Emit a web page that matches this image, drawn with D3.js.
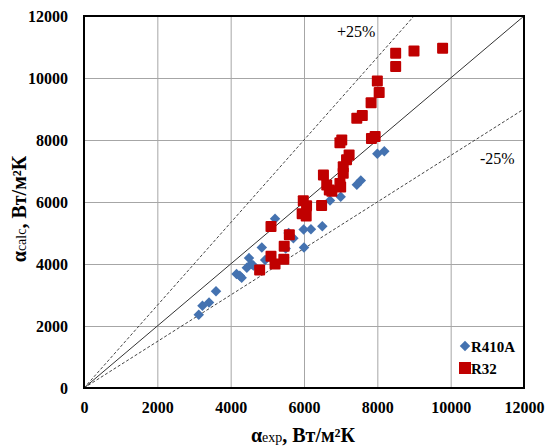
<!DOCTYPE html>
<html>
<head>
<meta charset="utf-8">
<script src="https://cdn.jsdelivr.net/npm/d3@7"></script>
<style>
  body { margin: 0; background: #fff; }
</style>
</head>
<body>
<div id="chart"></div>
<script>
const MARGIN = { LEFT: 84, RIGHT: 21, TOP: 16, BOTTOM: 58 }
const WIDTH = 545 - MARGIN.LEFT - MARGIN.RIGHT
const HEIGHT = 446 - MARGIN.TOP - MARGIN.BOTTOM
const FONT = "'Liberation Serif', 'Times New Roman', serif"

// data
const ticks = [0, 2000, 4000, 6000, 8000, 10000, 12000]
const r410aX = [3130, 3230, 3410, 3600, 4160, 4250, 4300, 4440, 4500, 4560, 4620, 4850, 4940, 5210, 5500, 5580, 5710, 5990, 6000, 6190, 6500, 6710, 7000, 7440, 7550, 8000, 8190]
const r410aY = [2360, 2650, 2760, 3120, 3680, 3620, 3560, 3880, 4190, 4000, 3950, 4530, 4130, 5460, 4500, 5000, 4830, 5110, 4530, 5120, 5220, 6050, 6170, 6560, 6690, 7560, 7640]
const r32X = [4790, 5100, 5210, 5100, 5450, 5460, 5600, 5980, 5950, 6060, 6070, 6480, 6530, 6620, 6690, 6760, 6980, 7000, 7070, 7070, 7160, 7230, 6980, 7030, 7840, 7940, 7440, 7590, 7830, 8000, 8050, 8500, 8500, 9000, 9780]
const r32Y = [3810, 4250, 4000, 5210, 4150, 4570, 4940, 6040, 5620, 5550, 5880, 5890, 6870, 6550, 6390, 6350, 6600, 6480, 6930, 7140, 7360, 7520, 7910, 8000, 8050, 8110, 8700, 8790, 9200, 9900, 9530, 10800, 10370, 10870, 10960]
const refLines = [
  { slope: 1, dash: null, color: "#333" },
  { slope: 1 / 0.75, dash: "3,2", color: "#444" },
  { slope: 0.75, dash: "3,2", color: "#444" }
]

const svg = d3.select("#chart").append("svg")
  .attr("width", 545)
  .attr("height", 446)
  .attr("font-family", FONT)

const g = svg.append("g")
  .attr("transform", `translate(${MARGIN.LEFT}, ${MARGIN.TOP})`)

const x = d3.scaleLinear().domain([0, 12000]).range([0, WIDTH])
const y = d3.scaleLinear().domain([0, 12000]).range([HEIGHT, 0])

// grid
g.append("g")
  .attr("transform", `translate(0, ${HEIGHT})`)
  .call(d3.axisBottom(x).tickValues(ticks).tickSize(-HEIGHT).tickFormat(""))
  .call(a => a.select(".domain").remove())
  .selectAll("line").attr("stroke", "#a6a6a6")
g.append("g")
  .call(d3.axisLeft(y).tickValues(ticks).tickSize(-WIDTH).tickFormat(""))
  .call(a => a.select(".domain").remove())
  .selectAll("line").attr("stroke", "#a6a6a6")

// tick labels
const xAxis = g.append("g")
  .attr("transform", `translate(0, ${HEIGHT})`)
  .call(d3.axisBottom(x).tickValues(ticks).tickSize(0).tickPadding(14).tickFormat(d3.format("d")))
  .attr("font-family", FONT)
xAxis.select(".domain").remove()
xAxis.selectAll("text")
  .attr("font-size", "16px").attr("font-weight", "bold").attr("fill", "#000")

const yAxis = g.append("g")
  .call(d3.axisLeft(y).tickValues(ticks).tickSize(0).tickPadding(16).tickFormat(d3.format("d")))
  .attr("font-family", FONT)
yAxis.select(".domain").remove()
yAxis.selectAll("text")
  .attr("font-size", "16px").attr("font-weight", "bold").attr("fill", "#000")

// reference lines
refLines.forEach(r => {
  const xEnd = Math.min(12000, 12000 / r.slope)
  g.append("line")
    .attr("x1", x(0)).attr("y1", y(0))
    .attr("x2", x(xEnd)).attr("y2", y(xEnd * r.slope))
    .attr("stroke", r.color)
    .attr("stroke-width", 1)
    .attr("stroke-dasharray", r.dash)
})

// frame
g.append("rect")
  .attr("width", WIDTH).attr("height", HEIGHT)
  .attr("fill", "none").attr("stroke", "#000").attr("stroke-width", 2)

// R410A diamonds
const diamond = d3.symbol().type(d3.symbolDiamond2).size(70)
g.selectAll(".r410a").data(r410aX.map((d, i) => [d, r410aY[i]]))
  .join("path")
  .attr("class", "r410a")
  .attr("d", diamond)
  .attr("transform", d => `translate(${x(d[0])}, ${y(d[1])})`)
  .attr("fill", "#4472b0")

// R32 squares
const sq = 11
g.selectAll(".r32").data(r32X.map((d, i) => [d, r32Y[i]]))
  .join("rect")
  .attr("class", "r32")
  .attr("x", d => x(d[0]) - sq / 2)
  .attr("y", d => y(d[1]) - sq / 2)
  .attr("width", sq).attr("height", sq)
  .attr("rx", 1)
  .attr("fill", "#c00000")

// annotations
g.append("text").attr("x", 253).attr("y", 21)
  .attr("font-size", "16px").text("+25%")
g.append("text").attr("x", 396).attr("y", 148)
  .attr("font-size", "16px").text("-25%")

// legend
const legend = g.append("g")
legend.append("path")
  .attr("d", diamond)
  .attr("transform", `translate(381, 330)`)
  .attr("fill", "#4472b0")
legend.append("text").attr("x", 387).attr("y", 336)
  .attr("font-size", "15px").attr("font-weight", "bold").text("R410A")
legend.append("rect")
  .attr("x", 375).attr("y", 346).attr("width", 12).attr("height", 12)
  .attr("fill", "#c00000")
legend.append("text").attr("x", 387).attr("y", 358)
  .attr("font-size", "15px").attr("font-weight", "bold").text("R32")

// axis titles
const xTitle = svg.append("text")
  .attr("x", 303).attr("y", 442)
  .attr("text-anchor", "middle")
  .attr("font-weight", "bold")
xTitle.append("tspan").attr("font-size", "20px").text("α")
xTitle.append("tspan").attr("font-size", "14px").attr("font-weight", "normal").text("exp")
xTitle.append("tspan").attr("font-size", "20px").text(", Вт/м²К")

const yTitle = svg.append("text")
  .attr("transform", "translate(26, 209) rotate(-90)")
  .attr("text-anchor", "middle")
  .attr("font-weight", "bold")
yTitle.append("tspan").attr("font-size", "20px").text("α")
yTitle.append("tspan").attr("font-size", "14px").attr("font-weight", "normal").text("calc")
yTitle.append("tspan").attr("font-size", "20px").text(",  Вт/м²К")
</script>
</body>
</html>
